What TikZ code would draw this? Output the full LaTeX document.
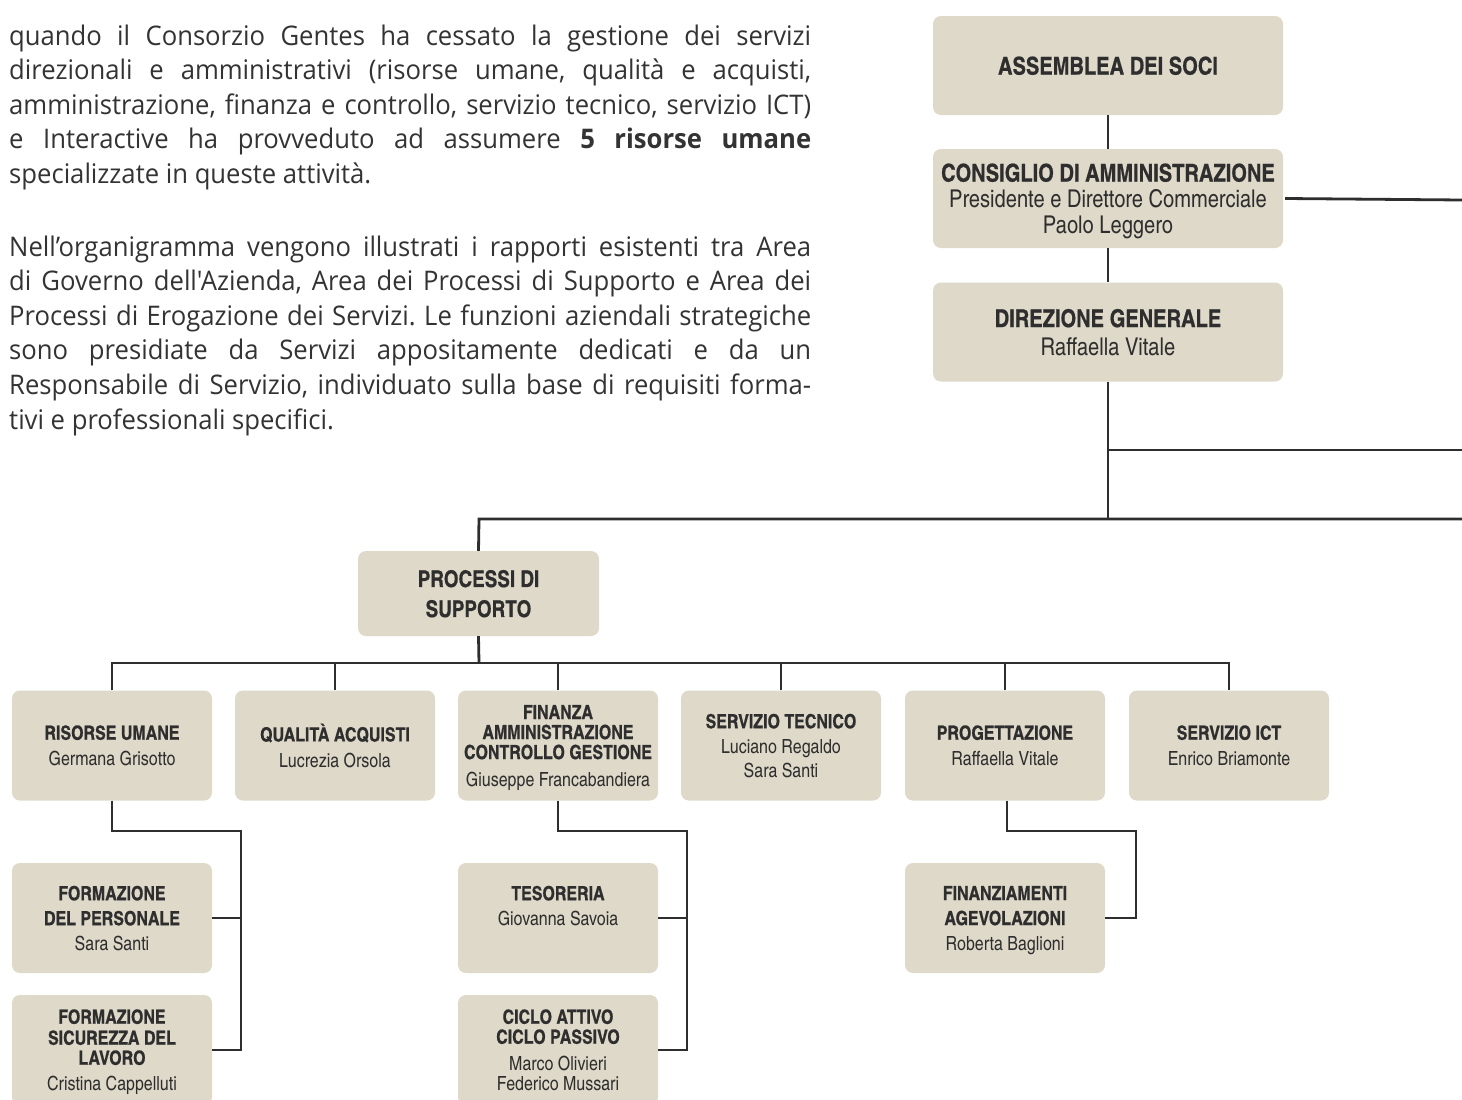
\documentclass[tikz,border=0pt]{standalone}
\usepackage{fontspec}
\newfontfamily\bodyfont[Ligatures=TeXOff, FakeStretch=0.95]{Open Sans}
\newfontfamily\cnfont[BoldFeatures={FakeBold=0.6}]{TeX Gyre Heros Cn}
\definecolor{boxfill}{RGB}{223,217,201}
\definecolor{ink}{RGB}{46,46,46}
\definecolor{bodyink}{RGB}{51,51,51}
\newcommand\bigfont{\cnfont\fontsize{24.5}{26}\selectfont}
\newcommand\smallfont{\cnfont\fontsize{19.5}{25}\selectfont}
\frenchspacing
\tikzset{
  bodyline/.style={anchor=base west, inner sep=0pt, text=bodyink,
    font=\bodyfont\fontsize{27}{32}\selectfont},
  orgbox/.style={fill=boxfill, rounded corners=8pt, inner sep=0pt,
    align=center, text=ink, text depth=0pt},
  bigbox/.style={orgbox, minimum width=350pt, minimum height=99pt, font=\bigfont},
  unitbox/.style={orgbox, minimum width=200pt, minimum height=110pt, font=\smallfont},
  link/.style={draw=ink, line width=2.8pt},
}
\begin{document}
\begin{tikzpicture}[x=1pt,y=-1pt]
\clip (0,0) rectangle (1462,1100);
\fill[white] (0,0) rectangle (1462,1100);

% body text
\node[bodyline] (a1) at (9,45) {\makebox[802pt][s]{quando il Consorzio Gentes ha cessato la gestione dei servizi}};
\node[bodyline] (a2) at (9,79.6) {\makebox[802pt][s]{direzionali e amministrativi (risorse umane, qualità e acquisti,}};
\node[bodyline] (a3) at (9,114.2) {\makebox[802pt][s]{amministrazione, finanza e controllo, servizio tecnico, servizio ICT)}};
\node[bodyline] (a4) at (9,148.8) {\makebox[802pt][s]{e Interactive ha provveduto ad assumere \textbf{5 risorse umane}}};
\node[bodyline] (a5) at (9,183.4) {specializzate in queste attività.};

\node[bodyline] (b1) at (9,256) {\makebox[802pt][s]{Nell’organigramma vengono illustrati i rapporti esistenti tra Area}};
\node[bodyline] (b2) at (9,290.6) {\makebox[802pt][s]{di Governo dell'Azienda, Area dei Processi di Supporto e Area dei}};
\node[bodyline] (b3) at (9,325.2) {\makebox[802pt][s]{Processi di Erogazione dei Servizi. Le funzioni aziendali strategiche}};
\node[bodyline] (b4) at (9,359.8) {\makebox[802pt][s]{sono presidiate da Servizi appositamente dedicati e da un}};
\node[bodyline] (b5) at (9,394.4) {\makebox[802pt][s]{Responsabile di Servizio, individuato sulla base di requisiti forma-}};
\node[bodyline] (b6) at (9,429) {tivi e professionali specifici.};

% top boxes
\node[bigbox] (soci) at (1108,65.5) {\textbf{ASSEMBLEA DEI SOCI}};
\node[bigbox] (cda) at (1108,198.5) {\textbf{CONSIGLIO DI AMMINISTRAZIONE}\\Presidente e Direttore Commerciale\\Paolo Leggero};
\node[bigbox] (dg) at (1108,332) {\textbf{DIREZIONE GENERALE}\\[2pt]Raffaella Vitale};
\node[orgbox, minimum width=241pt, minimum height=85pt, font=\cnfont\fontsize{23}{26}\selectfont] (proc) at (478.5,593.5) {\textbf{PROCESSI DI}\\[4pt]\textbf{SUPPORTO}};

% first row
\node[unitbox] (ru) at (112,745.5) {\textbf{RISORSE UMANE}\\[1pt]Germana Grisotto};
\node[unitbox] (qa) at (335,745.5) {\textbf{QUALITÀ ACQUISTI}\\[1pt]Lucrezia Orsola};
\node[unitbox] (fac) at (558,745.5) {\textbf{FINANZA}\\[-5pt]\textbf{AMMINISTRAZIONE}\\[-5pt]\textbf{CONTROLLO GESTIONE}\\[2pt]Giuseppe Francabandiera};
\node[unitbox] (st) at (781,745.5) {\textbf{SERVIZIO TECNICO}\\Luciano Regaldo\\[-1pt]Sara Santi};
\node[unitbox] (prog) at (1005,745.5) {\textbf{PROGETTAZIONE}\\[1pt]Raffaella Vitale};
\node[unitbox] (ict) at (1229,745.5) {\textbf{SERVIZIO ICT}\\[1pt]Enrico Briamonte};

% sub boxes
\node[unitbox] (fdp) at (112,918) {\textbf{FORMAZIONE}\\\textbf{DEL PERSONALE}\\Sara Santi};
\node[unitbox] (fsl) at (112,1050) {\textbf{FORMAZIONE}\\[-4pt]\textbf{SICUREZZA DEL}\\[-5pt]\textbf{LAVORO}\\[1pt]Cristina Cappelluti};
\node[unitbox] (tes) at (558,918) {\textbf{TESORERIA}\\Giovanna Savoia\\\phantom{X}};
\node[unitbox] (cic) at (558,1050) {\textbf{CICLO ATTIVO}\\[-5pt]\textbf{CICLO PASSIVO}\\[2pt]Marco Olivieri\\[-5pt]Federico Mussari};
\node[unitbox] (fin) at (1005,918) {\textbf{FINANZIAMENTI}\\\textbf{AGEVOLAZIONI}\\Roberta Baglioni};

% free ends at the right border
\coordinate (r1) at (1462,200);
\coordinate (r2) at (1462,450);
\coordinate (r3) at (1462,519);
\coordinate (j1) at (1108,450);
\coordinate (j2) at (1108,519);
\coordinate (bus) at (479,663);

% connectors
\draw[link] (soci.south) -- (cda.north);
\draw[link] (cda.south) -- (dg.north);
\draw[link] ([xshift=2pt]cda.east) -- (r1);
\draw[link] (dg.south) -- (j2);
\draw[link] (j1) -- (r2);
\draw[link] (r3) -- (479,519) -- (proc.north);
\draw[link] (proc.south) -- (bus);
\draw[link] (ru.north) -- (112,663) -- (1229,663) -- (ict.north);
\foreach \n in {qa,fac,st,prog} \draw[link] (\n.north) -- (\n.north |- bus);

\draw[link] (ru.south) -- (112,831) -- (241,831) |- (fsl.east);
\draw[link] (241,918) -- (fdp.east);
\draw[link] (fac.south) -- (558,831) -- (687,831) |- (cic.east);
\draw[link] (687,918) -- (tes.east);
\draw[link] (1007,800.5) -- (1007,831) -- (1136,831) |- (fin.east);
\end{tikzpicture}
\end{document}
